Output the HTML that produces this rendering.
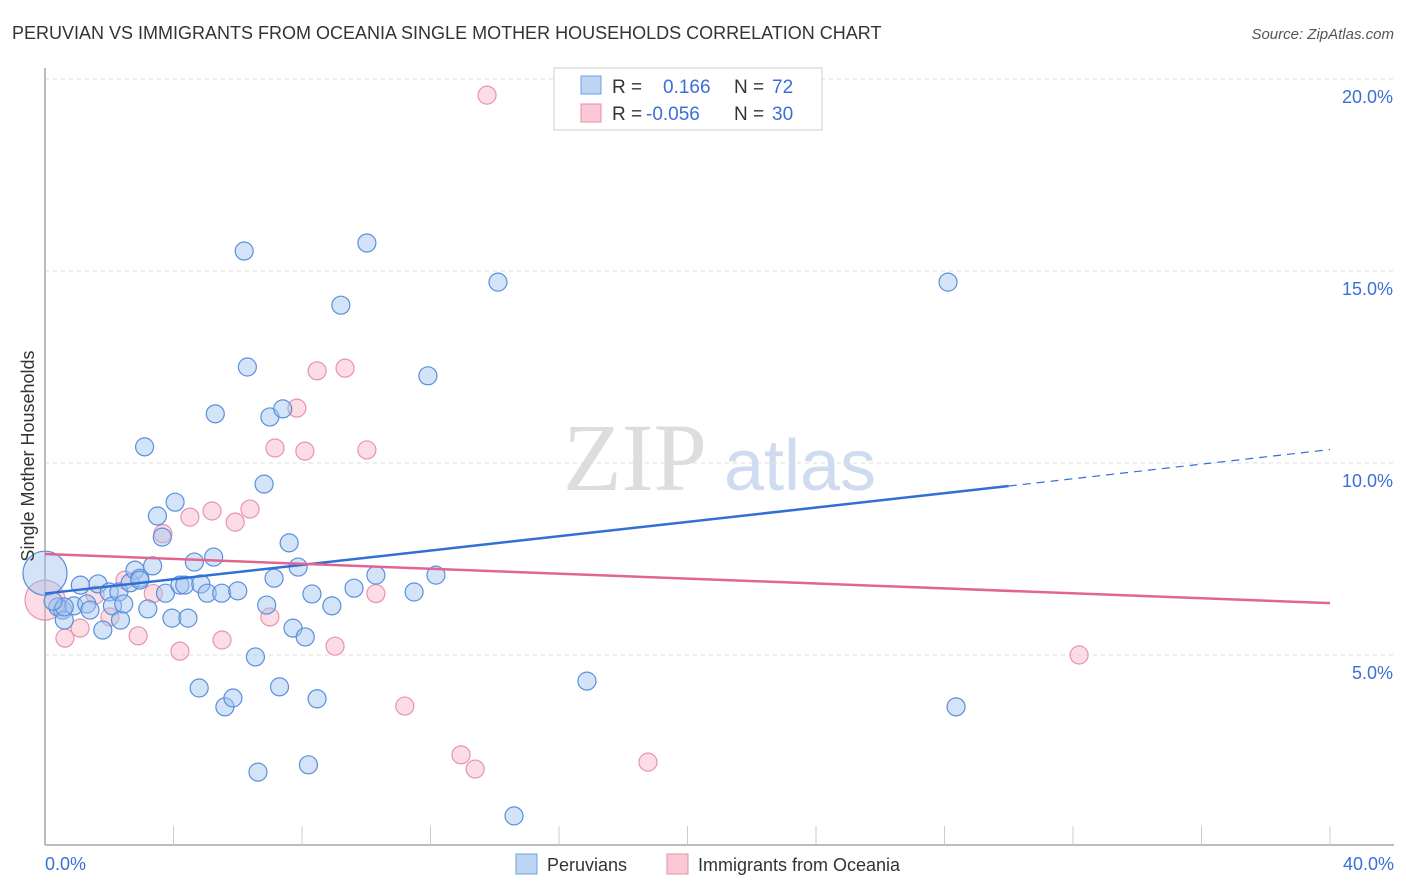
<!DOCTYPE html>
<html><head><meta charset="utf-8"><style>
body{margin:0;background:#fff;font-family:"Liberation Sans",sans-serif;}
svg{display:block}
</style></head><body>
<svg width="1406" height="892" xmlns="http://www.w3.org/2000/svg">
<text x="12" y="39" font-size="18" fill="#333">PERUVIAN VS IMMIGRANTS FROM OCEANIA SINGLE MOTHER HOUSEHOLDS CORRELATION CHART</text>
<text x="1394" y="39" font-size="15" fill="#555" font-style="italic" text-anchor="end">Source: ZipAtlas.com</text>
<text x="635" y="490" font-size="96" fill="#ddd" font-family="Liberation Serif" text-anchor="middle">ZIP</text>
<text x="800" y="490" font-size="72" fill="#cfdcf0" text-anchor="middle">atlas</text>
<g id="grid"></g><g id="axes"></g><g id="pink"></g><g id="blue"></g><g id="lines"></g>
<text transform="translate(34,456) rotate(-90)" font-size="18" fill="#333" text-anchor="middle">Single Mother Households</text>
<text x="45" y="870" font-size="18" fill="#3a6fd8">0.0%</text>
<text x="1394" y="870" font-size="18" fill="#3a6fd8" text-anchor="end">40.0%</text>
<g>
<rect x="554" y="68" width="268" height="62" fill="#fff" stroke="#ccc"/>
<rect x="581" y="76" width="20" height="18" fill="#bcd5f5" stroke="#6f9de0"/>
<rect x="581" y="104" width="20" height="18" fill="#fbc9d6" stroke="#e58fa8"/>
<text x="612" y="93" font-size="19" fill="#333">R =</text><text x="663" y="93" font-size="19" fill="#3a6fd8">0.166</text>
<text x="734" y="93" font-size="19" fill="#333">N =</text><text x="772" y="93" font-size="19" fill="#3a6fd8">72</text>
<text x="612" y="120" font-size="19" fill="#333">R =</text><text x="646" y="120" font-size="19" fill="#3a6fd8">-0.056</text>
<text x="734" y="120" font-size="19" fill="#333">N =</text><text x="772" y="120" font-size="19" fill="#3a6fd8">30</text>
</g>
<g><rect x="516" y="854" width="21" height="20" fill="#bcd5f5" stroke="#6f9de0"/><text x="547" y="871" font-size="18" fill="#333">Peruvians</text></g>
<g><rect x="667" y="854" width="21" height="20" fill="#fbc9d6" stroke="#e58fa8"/><text x="698" y="871" font-size="18" fill="#333">Immigrants from Oceania</text></g>
</svg>
<script>
const blueX=[0,0.4,0.55,0.6,0.9,1.1,1.3,1.4,1.65,1.8,2.0,2.1,2.3,2.35,2.45,2.65,2.8,2.95,3.1,3.2,3.35,3.5,3.65,3.75,3.95,4.05,4.2,4.35,4.45,4.65,4.8,4.85,5.05,5.25,5.3,5.5,5.6,5.85,6.0,6.2,6.3,6.55,6.63,6.82,6.9,7.0,7.13,7.3,7.4,7.6,7.72,7.88,8.1,8.2,8.31,8.47,8.93,9.21,9.62,10.02,10.3,11.49,11.92,12.17,14.1,14.6,16.87,28.11,28.36,0.6,2.95,0.25];
const blueY=[7.13,6.25,6.17,5.91,6.28,6.82,6.33,6.17,6.85,5.65,6.64,6.28,6.64,5.91,6.33,6.88,7.21,7.0,10.42,6.2,7.32,8.62,8.07,6.61,5.96,8.98,6.82,6.82,5.96,7.42,4.14,6.85,6.61,7.55,11.28,6.61,3.65,3.88,6.67,15.52,12.5,4.95,1.95,9.45,6.3,11.2,7.0,4.17,11.41,7.92,5.7,7.29,5.47,2.14,6.59,3.86,6.28,14.11,6.74,15.73,7.08,6.64,12.27,7.08,14.71,0.81,4.32,14.71,3.65,6.25,6.95,6.4];
const pinkX=[0,0.62,1.09,1.56,2.02,2.49,2.9,3.37,3.67,4.2,4.51,5.2,5.51,5.92,6.38,7.0,7.16,7.84,8.09,8.47,9.03,9.34,10.02,10.3,11.2,12.95,13.39,13.76,18.77,32.19];
const pinkY=[6.43,5.44,5.7,6.56,5.99,6.95,5.5,6.6,8.16,5.1,8.59,8.75,5.39,8.46,8.8,5.99,10.39,11.43,10.31,12.4,5.23,12.47,10.34,6.6,3.67,2.4,2.03,19.58,2.21,5.0];
const yTicks=[5,10,15,20], yLabels=["5.0%","10.0%","15.0%","20.0%"];
const blueTrend=[0,6.6,30,9.4,40,10.35], pinkTrend=[0,7.63,40,6.35];
const X=v=>45+v/40*1285, Y=v=>847-v/20*768;
const NS="http://www.w3.org/2000/svg";
function mk(t,a,p){const e=document.createElementNS(NS,t);for(const k in a)e.setAttribute(k,a[k]);p.appendChild(e);return e;}
const grid=document.getElementById('grid'),axes=document.getElementById('axes');
yTicks.forEach((t,i)=>{
 const l=mk('line',{x1:45,x2:1394,y1:Y(t),y2:Y(t),stroke:'#ddd','stroke-dasharray':'4,4'},grid);
 
 
 const tx=mk('text',{x:1393,y:Y(t)+24,'font-size':18,fill:'#3a6fd8','text-anchor':'end'},grid);
 tx.textContent=yLabels[i];
 
 
});
const xa=mk('line',{x1:45,x2:1394,y1:845,y2:845,stroke:'#bbb','stroke-width':2},axes);


const ya=mk('line',{x1:45,x2:45,y1:68,y2:845,stroke:'#bbb','stroke-width':2},axes);


for(let v=4;v<=40;v+=4){const t=mk('line',{x1:X(v),x2:X(v),y1:826,y2:845,stroke:'#ccc'},axes);
 
 }
const pg=document.getElementById('pink'),bg=document.getElementById('blue');
pinkX.forEach((x,i)=>{const c=mk('circle',{cx:X(x),cy:Y(pinkY[i]),r:i==0?20:9,fill:'rgba(248,180,200,0.45)',stroke:'#e893ad','stroke-width':1.2},pg);
 
 });
blueX.forEach((x,i)=>{const c=mk('circle',{cx:X(x),cy:Y(blueY[i]),r:i==0?22:9,fill:'rgba(160,195,240,0.45)',stroke:'#5b8fdc','stroke-width':1.2},bg);
 
 });
const lg=document.getElementById('lines');
const b1=mk('line',{x1:X(blueTrend[0]),y1:Y(blueTrend[1]),x2:X(blueTrend[2]),y2:Y(blueTrend[3]),stroke:'#2f6fd6','stroke-width':2.5},lg);


const b2=mk('line',{x1:X(blueTrend[2]),y1:Y(blueTrend[3]),x2:X(blueTrend[4]),y2:Y(blueTrend[5]),stroke:'#2f6fd6','stroke-width':1.2,'stroke-dasharray':'8,6'},lg);


const p1=mk('line',{x1:X(pinkTrend[0]),y1:Y(pinkTrend[1]),x2:X(pinkTrend[2]),y2:Y(pinkTrend[3]),stroke:'#e0668f','stroke-width':2.5},lg);


</script>
</body></html>
